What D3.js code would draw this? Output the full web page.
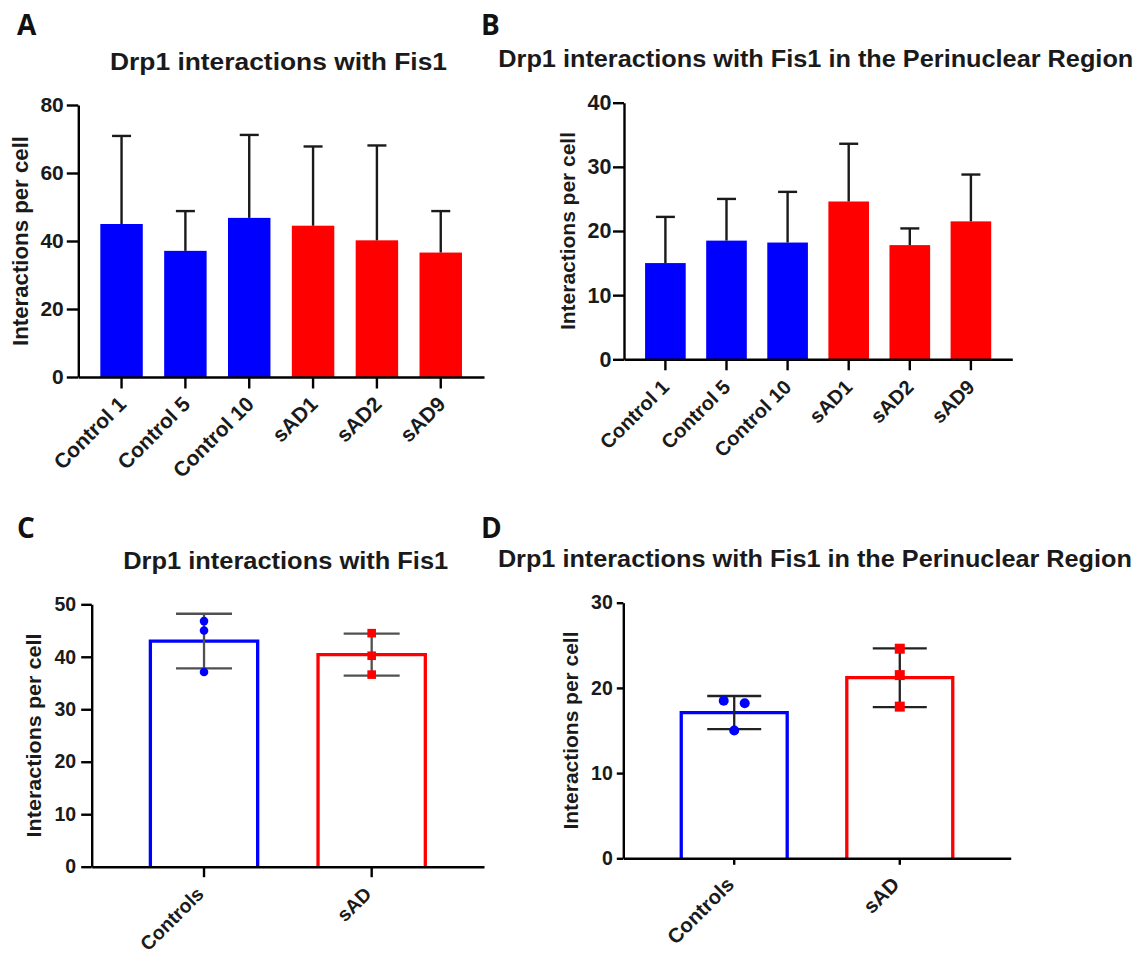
<!DOCTYPE html>
<html>
<head>
<meta charset="utf-8">
<script src="https://cdn.jsdelivr.net/npm/d3@7"></script>
<style>
  body { margin: 0; background: #fff; }
  svg text { font-family: "Liberation Sans", Arial, sans-serif; font-weight: bold; fill: #1a1a1a; }
  svg text.panel-letter { font-family: "Open Sans", "Liberation Sans", sans-serif; font-weight: 700; fill: #111; }
</style>
</head>
<body>
<script>
// per cell line
var lineNames = ["Control 1", "Control 5", "Control 10", "sAD1", "sAD2", "sAD9"]
var lineGroup = ["Controls", "Controls", "Controls", "sAD", "sAD", "sAD"]
var totalMeans = [45.0, 37.1, 46.8, 44.5, 40.2, 36.6]
var totalSD = [25.9, 11.7, 24.4, 23.3, 27.9, 12.2]
var periMeans = [15.0, 18.5, 18.2, 24.6, 17.8, 21.5]
var periSD = [7.2, 6.5, 7.9, 9.0, 2.6, 7.3]

// pooled per group
var groupNames = ["Controls", "sAD"]
var groupTotalMeans = [43.0, 40.4]
var groupTotalSD = [5.2, 4.0]
var groupPeriMeans = [17.1, 21.2]
var groupPeriSD = [1.95, 3.45]

var totalTicks = [0, 20, 40, 60, 80]
var periTicks = [0, 10, 20, 30, 40]
var groupTotalTicks = [0, 10, 20, 30, 40, 50]
var groupPeriTicks = [0, 10, 20, 30]

var titleTotal = "Drp1 interactions with Fis1"
var titlePeri = "Drp1 interactions with Fis1 in the Perinuclear Region"
var yLabel = "Interactions per cell"
var groupColor = { Controls: "#0000ff", sAD: "#ff0000" }

var svg = d3.select("body").append("svg")
    .attr("width", 1143)
    .attr("height", 954)

svg.append("rect").attr("width", 1143).attr("height", 954).attr("fill", "#fff")

// panel letters
var letters = [["A", 17, 35], ["B", 481, 35], ["C", 17, 538], ["D", 481, 538]]
svg.selectAll("text.panel-letter")
  .data(letters)
  .enter().append("text")
  .classed("panel-letter", true)
  .attr("x", function(d) { return d[1] })
  .attr("y", function(d) { return d[2] })
  .style("font-size", "28px")
  .text(function(d) { return d[0] })

function drawFrame(p, x, y, names) {
  var g = svg.append("g")

  // title
  g.append("text")
    .attr("x", p.titleX)
    .attr("y", p.titleY)
    .attr("text-anchor", "middle")
    .attr("textLength", p.titleW)
    .attr("lengthAdjust", "spacingAndGlyphs")
    .style("font-size", "23px")
    .text(p.title)

  // y label
  g.append("text")
    .attr("transform", "translate(" + p.ylabX + "," + (p.top + p.bottom) / 2 + ") rotate(-90)")
    .attr("text-anchor", "middle")
    .attr("dy", "0.35em")
    .attr("textLength", p.ylabW)
    .attr("lengthAdjust", "spacingAndGlyphs")
    .style("font-size", p.ylabFont + "px")
    .text(yLabel)

  // x tick labels, rotated
  g.selectAll("text.xlab")
    .data(names)
    .enter().append("text")
    .classed("xlab", true)
    .attr("transform", function(d) {
      var cx = x(d) + x.bandwidth() / 2 + p.xlabDx
      var cy = p.bottom + p.tickLen + p.xlabDy
      return "translate(" + cx + "," + cy + ") rotate(-45)"
    })
    .attr("text-anchor", "end")
    .style("font-size", p.xlabFont + "px")
    .text(function(d) { return d })
  return g
}

function drawAxes(g, p, x, y) {
  var yAxis = d3.axisLeft(y)
      .tickValues(p.ticks)
      .tickSize(p.tickLen)
      .tickSizeOuter(0)
      .tickPadding(p.tickPad)
      .tickFormat(d3.format("d"))
  var ya = g.append("g")
    .attr("transform", "translate(" + p.left + ",0)")
    .call(yAxis)
  ya.selectAll("text").style("font-size", p.tickFont + "px")

  var xAxis = d3.axisBottom(x)
      .tickSize(p.tickLen)
      .tickSizeOuter(0)
      .tickFormat("")
  g.append("g")
    .attr("transform", "translate(0," + p.bottom + ")")
    .call(xAxis)

  g.selectAll(".domain, .tick line")
    .attr("stroke", "#000")
    .attr("stroke-width", 2.4)
}

// ---- A and B: one bar per cell line, SD above
function barPanel(p, means, sds) {
  var x = d3.scaleBand()
      .domain(lineNames)
      .range([p.left, p.right])
      .paddingInner(0.335)
      .paddingOuter(0.345)
  var y = d3.scaleLinear()
      .domain([0, d3.max(p.ticks)])
      .range([p.bottom, p.top])

  var g = drawFrame(p, x, y, lineNames)
  var rows = lineNames.map(function(n, i) {
    return { name: n, group: lineGroup[i], mean: means[i], sd: sds[i] }
  })

  g.selectAll("rect.bar")
    .data(rows)
    .enter().append("rect")
    .classed("bar", true)
    .attr("x", function(d) { return x(d.name) })
    .attr("width", x.bandwidth())
    .attr("y", function(d) { return y(d.mean) })
    .attr("height", function(d) { return y(0) - y(d.mean) })
    .attr("fill", function(d) { return groupColor[d.group] })

  var eb = g.append("g").attr("stroke", "#1a1a1a").attr("stroke-width", 2.4)
  eb.selectAll("line.v")
    .data(rows)
    .enter().append("line")
    .attr("x1", function(d) { return x(d.name) + x.bandwidth() / 2 })
    .attr("x2", function(d) { return x(d.name) + x.bandwidth() / 2 })
    .attr("y1", function(d) { return y(d.mean) })
    .attr("y2", function(d) { return y(d.mean + d.sd) })
  eb.selectAll("line.cap")
    .data(rows)
    .enter().append("line")
    .attr("x1", function(d) { return x(d.name) + x.bandwidth() / 2 - p.capW / 2 })
    .attr("x2", function(d) { return x(d.name) + x.bandwidth() / 2 + p.capW / 2 })
    .attr("y1", function(d) { return y(d.mean + d.sd) })
    .attr("y2", function(d) { return y(d.mean + d.sd) })

  drawAxes(g, p, x, y)
}

// spread points whose markers would overlap
function spread(vals, y, size, spacing) {
  var order = vals.map(function(v, i) { return i })
    .sort(function(a, b) { return vals[b] - vals[a] })
  var offsets = vals.map(function() { return 0 })
  var clusters = [[order[0]]]
  for (var k = 1; k < order.length; k++) {
    var last = clusters[clusters.length - 1]
    var prev = last[last.length - 1]
    if (Math.abs(y(vals[order[k]]) - y(vals[prev])) < size) last.push(order[k])
    else clusters.push([order[k]])
  }
  clusters.forEach(function(c) {
    c.forEach(function(idx, j) { offsets[idx] = (j - (c.length - 1) / 2) * spacing })
  })
  return offsets
}

// ---- C and D: open bars per group, mean ± SD with cell-line points
function groupPanel(p, means, sds, lineVals) {
  var x = d3.scaleBand()
      .domain(groupNames)
      .range([p.left, p.right])
      .paddingInner(0.36)
      .paddingOuter(0.35)
  var y = d3.scaleLinear()
      .domain([0, d3.max(p.ticks)])
      .range([p.bottom, p.top])

  var g = drawFrame(p, x, y, groupNames)
  var rows = groupNames.map(function(n, i) {
    return { name: n, mean: means[i], sd: sds[i] }
  })

  g.selectAll("path.bar")
    .data(rows)
    .enter().append("path")
    .classed("bar", true)
    .attr("d", function(d) {
      var x0 = x(d.name), x1 = x0 + x.bandwidth()
      return "M" + x0 + "," + y(0) + "V" + y(d.mean) + "H" + x1 + "V" + y(0)
    })
    .attr("fill", "#fff")
    .attr("stroke", function(d) { return groupColor[d.name] })
    .attr("stroke-width", 3.3)

  var eb = g.append("g").attr("stroke", p.errColor).attr("stroke-width", 2.3)
  rows.forEach(function(d) {
    var cx = x(d.name) + x.bandwidth() / 2
    eb.append("line")
      .attr("x1", cx).attr("x2", cx)
      .attr("y1", y(d.mean - d.sd)).attr("y2", y(d.mean + d.sd))
    ;[d.mean - d.sd, d.mean + d.sd].forEach(function(v) {
      eb.append("line")
        .attr("x1", cx - p.capW / 2).attr("x2", cx + p.capW / 2)
        .attr("y1", y(v)).attr("y2", y(v))
    })
  })

  // cell line points
  groupNames.forEach(function(gn) {
    var vals = lineVals.filter(function(v, i) { return lineGroup[i] === gn })
    var offs = spread(vals, y, p.marker, p.marker * 2.1)
    var cx = x(gn) + x.bandwidth() / 2
    var pts = vals.map(function(v, i) { return { v: v, dx: offs[i] } })
    if (gn === "Controls") {
      g.selectAll(null)
        .data(pts)
        .enter().append("circle")
        .attr("cx", function(d) { return cx + d.dx })
        .attr("cy", function(d) { return y(d.v) })
        .attr("r", p.marker / 2)
        .attr("fill", groupColor[gn])
    } else {
      g.selectAll(null)
        .data(pts)
        .enter().append("rect")
        .attr("x", function(d) { return cx + d.dx - p.marker / 2 })
        .attr("y", function(d) { return y(d.v) - p.marker / 2 })
        .attr("width", p.marker)
        .attr("height", p.marker)
        .attr("fill", groupColor[gn])
    }
  })

  drawAxes(g, p, x, y)
}

barPanel({
  title: titleTotal, titleX: 278.5, titleY: 70, titleW: 337,
  left: 78.3, right: 484, top: 105, bottom: 377, ticks: totalTicks,
  tickLen: 11.5, tickPad: 3, tickFont: 21,
  ylabX: 20, ylabW: 210, ylabFont: 22,
  xlabDx: 6, xlabDy: 17, xlabFont: 21, capW: 19
}, totalMeans, totalSD)

barPanel({
  title: titlePeri, titleX: 815.8, titleY: 67, titleW: 635,
  left: 624, right: 1012.3, top: 102.7, bottom: 359.3, ticks: periTicks,
  tickLen: 11, tickPad: 1.5, tickFont: 21.5,
  ylabX: 568, ylabW: 198, ylabFont: 21,
  xlabDx: 5, xlabDy: 18, xlabFont: 20, capW: 19
}, periMeans, periSD)

groupPanel({
  title: titleTotal, titleX: 285.7, titleY: 569, titleW: 325,
  left: 91.7, right: 484, top: 604.3, bottom: 866.7, ticks: groupTotalTicks,
  tickLen: 10.5, tickPad: 5, tickFont: 19.5,
  ylabX: 33.5, ylabW: 204, ylabFont: 21,
  xlabDx: 1, xlabDy: 18, xlabFont: 19.5, capW: 56,
  errColor: "#505050", marker: 8.6
}, groupTotalMeans, groupTotalSD, totalMeans)

groupPanel({
  title: titlePeri, titleX: 814.9, titleY: 567, titleW: 634,
  left: 623.3, right: 1010.7, top: 602.7, bottom: 858.3, ticks: groupPeriTicks,
  tickLen: 6.5, tickPad: 4, tickFont: 19.5,
  ylabX: 570.5, ylabW: 198, ylabFont: 21,
  xlabDx: 1, xlabDy: 21, xlabFont: 20.5, capW: 54,
  errColor: "#222", marker: 10
}, groupPeriMeans, groupPeriSD, periMeans)
</script>
</body>
</html>
